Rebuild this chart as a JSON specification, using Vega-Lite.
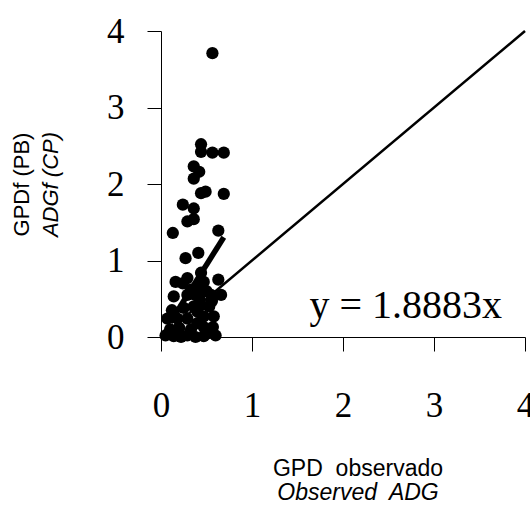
{
  "$schema": "https://vega.github.io/schema/vega-lite/v6.json",
  "width": 364,
  "height": 306,
  "autosize": {"type": "none"},
  "padding": {"left": 161, "top": 31, "right": 5, "bottom": 169},
  "background": "white",
  "config": {
    "view": {"stroke": null},
    "axis": {
      "grid": false,
      "domainColor": "black",
      "tickColor": "black",
      "labelColor": "black",
      "titleColor": "black",
      "labelFont": "Liberation Serif",
      "labelFontSize": 35,
      "tickSize": 14,
      "tickWidth": 1,
      "domainWidth": 1,
      "titleFont": "Liberation Sans",
      "titleFontWeight": "normal",
      "titleFontSize": 22
    }
  },
  "title": {
    "text": "GPD\u00a0 observado",
    "subtitle": "Observed\u00a0 ADG",
    "orient": "bottom",
    "anchor": "middle",
    "dx": 15,
    "offset": 35,
    "font": "Liberation Sans",
    "fontSize": 23,
    "fontWeight": "normal",
    "color": "black",
    "subtitleFont": "Liberation Sans",
    "subtitleFontSize": 23,
    "subtitleFontStyle": "italic",
    "subtitleColor": "black",
    "subtitlePadding": 1
  },
  "encoding": {
    "x": {
      "field": "x",
      "type": "quantitative",
      "scale": {"domain": [0, 4], "nice": false},
      "axis": {"values": [0, 1, 2, 3, 4], "title": null, "labelPadding": 37, "format": "d", "labelFlush": false}
    }
  },
  "layer": [
    {
      "data": {"values": [
        {"x": 0.565, "y": 3.71},
        {"x": 0.44, "y": 2.52},
        {"x": 0.44, "y": 2.42},
        {"x": 0.565, "y": 2.41},
        {"x": 0.69, "y": 2.41},
        {"x": 0.36, "y": 2.23},
        {"x": 0.42, "y": 2.16},
        {"x": 0.36, "y": 2.07},
        {"x": 0.44, "y": 1.88},
        {"x": 0.49, "y": 1.9},
        {"x": 0.69, "y": 1.87},
        {"x": 0.24, "y": 1.73},
        {"x": 0.36, "y": 1.68},
        {"x": 0.29, "y": 1.51},
        {"x": 0.36, "y": 1.54},
        {"x": 0.13, "y": 1.36},
        {"x": 0.63, "y": 1.39},
        {"x": 0.27, "y": 1.03},
        {"x": 0.41, "y": 1.1},
        {"x": 0.44, "y": 0.84},
        {"x": 0.16, "y": 0.72},
        {"x": 0.29, "y": 0.77},
        {"x": 0.63, "y": 0.75},
        {"x": 0.24, "y": 0.7},
        {"x": 0.47, "y": 0.72},
        {"x": 0.14, "y": 0.53},
        {"x": 0.42, "y": 0.51},
        {"x": 0.55, "y": 0.55},
        {"x": 0.66, "y": 0.55},
        {"x": 0.33, "y": 0.62},
        {"x": 0.38, "y": 0.55},
        {"x": 0.29, "y": 0.55},
        {"x": 0.5, "y": 0.6},
        {"x": 0.44, "y": 0.65},
        {"x": 0.56, "y": 0.47},
        {"x": 0.07, "y": 0.24},
        {"x": 0.18, "y": 0.24},
        {"x": 0.29, "y": 0.24},
        {"x": 0.4, "y": 0.33},
        {"x": 0.47, "y": 0.27},
        {"x": 0.58, "y": 0.27},
        {"x": 0.36, "y": 0.4},
        {"x": 0.44, "y": 0.42},
        {"x": 0.53, "y": 0.4},
        {"x": 0.05, "y": 0.02},
        {"x": 0.14, "y": 0.01},
        {"x": 0.22, "y": 0.0},
        {"x": 0.29, "y": 0.02},
        {"x": 0.38, "y": 0.0},
        {"x": 0.47, "y": 0.01},
        {"x": 0.6, "y": 0.02},
        {"x": 0.47, "y": 0.13},
        {"x": 0.57, "y": 0.13},
        {"x": 0.1, "y": 0.1},
        {"x": 0.2, "y": 0.12},
        {"x": 0.33, "y": 0.1},
        {"x": 0.4, "y": 0.18},
        {"x": 0.52, "y": 0.05},
        {"x": 0.25, "y": 0.38},
        {"x": 0.12, "y": 0.35}
      ]},
      "mark": {"type": "circle", "size": 150, "color": "black", "opacity": 1},
      "encoding": {
        "y": {
          "field": "y",
          "type": "quantitative",
          "scale": {"domain": [0, 4], "nice": false},
          "axis": {"values": [0, 1, 2, 3, 4], "format": "d", "title": "GPDf (PB)", "labelPadding": 23, "titlePadding": 73}
        }
      }
    },
    {
      "data": {"values": [{"x": 0, "y": 0}, {"x": 4, "y": 4}]},
      "mark": {"type": "line", "strokeWidth": 2.5, "color": "black"},
      "encoding": {
        "y": {
          "field": "y",
          "type": "quantitative",
          "axis": {"orient": "left", "labels": false, "ticks": false, "domain": false, "title": "ADGf (CP)", "titleFontStyle": "italic", "titlePadding": 99}
        }
      }
    },
    {
      "data": {"values": [{"x": 0.1, "y": 0.189}, {"x": 0.69, "y": 1.303}]},
      "mark": {"type": "line", "strokeWidth": 5.5, "color": "black"},
      "encoding": {"y": {"field": "y", "type": "quantitative", "axis": null}}
    },
    {
      "data": {"values": [{"x": 2.69, "y": 0.248, "label": "y = 1.8883x"}]},
      "mark": {"type": "text", "font": "Liberation Serif", "fontSize": 40, "align": "center", "baseline": "alphabetic", "color": "black"},
      "encoding": {
        "y": {"field": "y", "type": "quantitative", "axis": null},
        "text": {"field": "label"}
      }
    }
  ],
  "resolve": {"scale": {"y": "shared"}, "axis": {"y": "independent"}}
}
